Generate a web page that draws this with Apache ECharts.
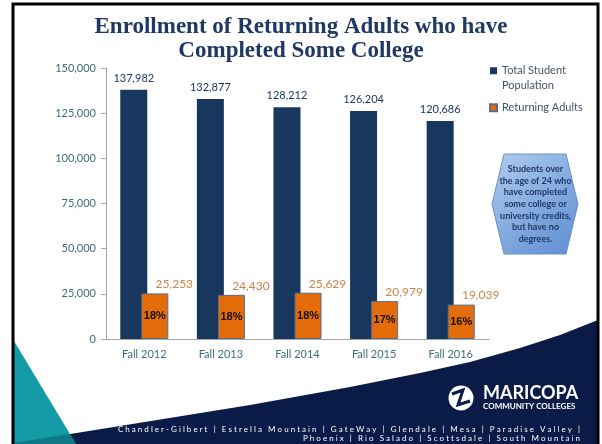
<!DOCTYPE html>
<html>
<head>
<meta charset="utf-8">
<title>Enrollment of Returning Adults</title>
<script src="https://cdn.jsdelivr.net/npm/echarts@6/dist/echarts.min.js"></script>
<style>
  html, body { margin: 0; padding: 0; background: #fff; }
  #chart { width: 602px; height: 444px; }
</style>
</head>
<body>
<div id="chart"></div>
<script>
// data
const categories = ['Fall 2012', 'Fall 2013', 'Fall 2014', 'Fall 2015', 'Fall 2016']
const totalStudents = [137982, 132877, 128212, 126204, 120686]
const returningAdults = [25253, 24430, 25629, 20979, 19039]
const returningShare = ['18%', '18%', '18%', '17%', '16%']
const yMin = 0
const yMax = 150000
const yStep = 25000

const calloutText = 'Students over\nthe age of 24 who\nhave completed\nsome college or\nuniversity credits,\nbut have no\ndegrees.'
const footerLine1 = 'Chandler-Gilbert | Estrella Mountain | GateWay | Glendale | Mesa | Paradise Valley |'
const footerLine2 = 'Phoenix | Rio Salado | Scottsdale | South Mountain'

const NAVY = '#17375E'
const ORANGE = '#E46C0A'
const AXIS_TEXT = '#3E6B7A'
const FONT = 'Lato, "Noto Sans", sans-serif'

function fmt(v) {
  return v.toLocaleString('en-US')
}
// the footer is set with wide letter spacing
function spaced(s) {
  return s.split('').join(' ')
}

// outline of the navy swoosh along the bottom of the slide template
const swoosh = [[14, 443], [120, 426], [250, 405], [350, 387], [420, 373], [470, 362],
  [520, 348], [560, 335], [598, 320], [598, 444], [14, 444]]

const chart = echarts.init(document.getElementById('chart'), null, { renderer: 'canvas' })

const option = {
  backgroundColor: '#fff',
  animation: false,
  title: {
    text: 'Enrollment of Returning Adults who have\nCompleted Some College',
    left: 'center',
    top: 10,
    textStyle: {
      fontFamily: '"Liberation Serif", serif',
      fontWeight: 'bold',
      fontSize: 23,
      lineHeight: 24,
      color: '#1F3864'
    }
  },
  legend: {
    orient: 'vertical',
    left: 489,
    top: 49,
    padding: 0,
    itemWidth: 7,
    itemHeight: 7,
    itemGap: 8,
    icon: 'rect',
    textStyle: { fontFamily: FONT, fontSize: 11, color: '#44546A', lineHeight: 14.5 },
    data: ['Total Student Population', 'Returning Adults'],
    formatter: function (name) {
      // blank first line keeps the square level with "Total Student"
      return name === 'Total Student Population' ? '\nTotal Student\nPopulation' : name
    }
  },
  grid: { left: 106, right: 113, top: 68, bottom: 105 },
  xAxis: {
    type: 'category',
    data: categories,
    axisLine: { lineStyle: { color: '#A6A6A6' } },
    axisTick: { length: 4, lineStyle: { color: '#A6A6A6' } },
    axisLabel: { color: AXIS_TEXT, fontFamily: FONT, fontSize: 11, margin: 10 }
  },
  yAxis: {
    type: 'value',
    min: yMin,
    max: yMax,
    interval: yStep,
    splitLine: { show: false },
    axisLine: { show: true, lineStyle: { color: '#A6A6A6' } },
    axisTick: { show: true, length: 5, lineStyle: { color: '#A6A6A6' } },
    axisLabel: { color: AXIS_TEXT, fontFamily: FONT, fontSize: 11, margin: 10, formatter: fmt }
  },
  series: [
    {
      name: 'Total Student Population',
      type: 'bar',
      data: totalStudents,
      barWidth: 27,
      barGap: '-22%',
      itemStyle: { color: NAVY },
      label: {
        show: true,
        position: 'top',
        distance: 6,
        color: '#1F3864',
        fontFamily: FONT,
        fontSize: 11,
        formatter: p => fmt(p.value)
      }
    },
    {
      name: 'Returning Adults',
      type: 'bar',
      data: returningAdults,
      barWidth: 27,
      itemStyle: { color: ORANGE, borderColor: '#5A6E88', borderWidth: 1 },
      label: {
        show: true,
        position: 'inside',
        color: '#111',
        fontFamily: '"Liberation Sans", Arial, sans-serif',
        fontWeight: 'bold',
        fontSize: 11,
        formatter: p => returningShare[p.dataIndex]
      }
    },
    {
      // value labels of the orange bars, set off to the right as on the slide
      name: 'Returning Adults value',
      type: 'scatter',
      data: returningAdults,
      symbolSize: 0,
      silent: true,
      z: 5,
      label: {
        show: true,
        position: 'top',
        distance: 3,
        offset: [30, 0],
        color: '#C0651A',
        fontFamily: FONT,
        fontSize: 12,
        formatter: p => fmt(p.value)
      }
    }
  ],
  graphic: [
    // bottom swoosh of the slide template
    { type: 'polygon', z: -10, shape: { points: swoosh }, style: { fill: '#0A1B47' } },
    { type: 'polygon', z: -9, shape: { points: [[14, 341], [14, 444], [76, 444]] }, style: { fill: '#149AA4' } },
    { type: 'polygon', z: -8, shape: { points: [[14, 443], [70, 434], [76, 444], [14, 444]] }, style: { fill: '#0E7886' } },
    // logo
    { type: 'circle', z: 10, shape: { cx: 461, cy: 398, r: 12.5 }, style: { fill: '#fff' } },
    { type: 'polyline', z: 11, shape: { points: [[452, 394], [463, 390], [458, 405], [470, 401]] }, style: { stroke: '#0A1B47', lineWidth: 3, fill: null } },
    { type: 'text', z: 10, left: 483, top: 384, style: { text: 'MARICOPA', fill: '#fff', font: 'bold 18px ' + FONT } },
    { type: 'text', z: 10, left: 483, top: 402, style: { text: 'COMMUNITY COLLEGES', fill: '#fff', font: 'bold 8px ' + FONT } },
    { type: 'text', z: 10, left: 546, top: 411, style: { text: '57', fill: '#1C2A4E', font: '9px "Liberation Sans", sans-serif' } },
    { type: 'text', z: 10, right: 22, top: 425, style: { text: spaced(footerLine1), fill: '#fff', font: '8px ' + FONT } },
    { type: 'text', z: 10, right: 22, top: 434, style: { text: spaced(footerLine2), fill: '#fff', font: '8px ' + FONT } },
    // callout hexagon
    {
      type: 'polygon',
      z: 10,
      shape: { points: [[492, 204], [504, 154], [566, 154], [578, 204], [566, 254], [504, 254]] },
      style: {
        fill: new echarts.graphic.LinearGradient(0, 0, 1, 1, [
          { offset: 0, color: '#B0CCEF' },
          { offset: 1, color: '#5C8CD2' }
        ]),
        stroke: '#6E93C8',
        lineWidth: 1
      }
    },
    {
      type: 'text',
      z: 11,
      x: 535.5,
      y: 204,
      style: {
        text: calloutText,
        fill: '#1F3864',
        font: 'bold 9px ' + FONT,
        lineHeight: 11.7,
        align: 'center',
        verticalAlign: 'middle'
      }
    },
    // slide frame
    { type: 'rect', z: 20, shape: { x: 13, y: 4, width: 585, height: 460 }, style: { fill: null, stroke: '#000', lineWidth: 3 } }
  ]
}

chart.setOption(option)
</script>
</body>
</html>
